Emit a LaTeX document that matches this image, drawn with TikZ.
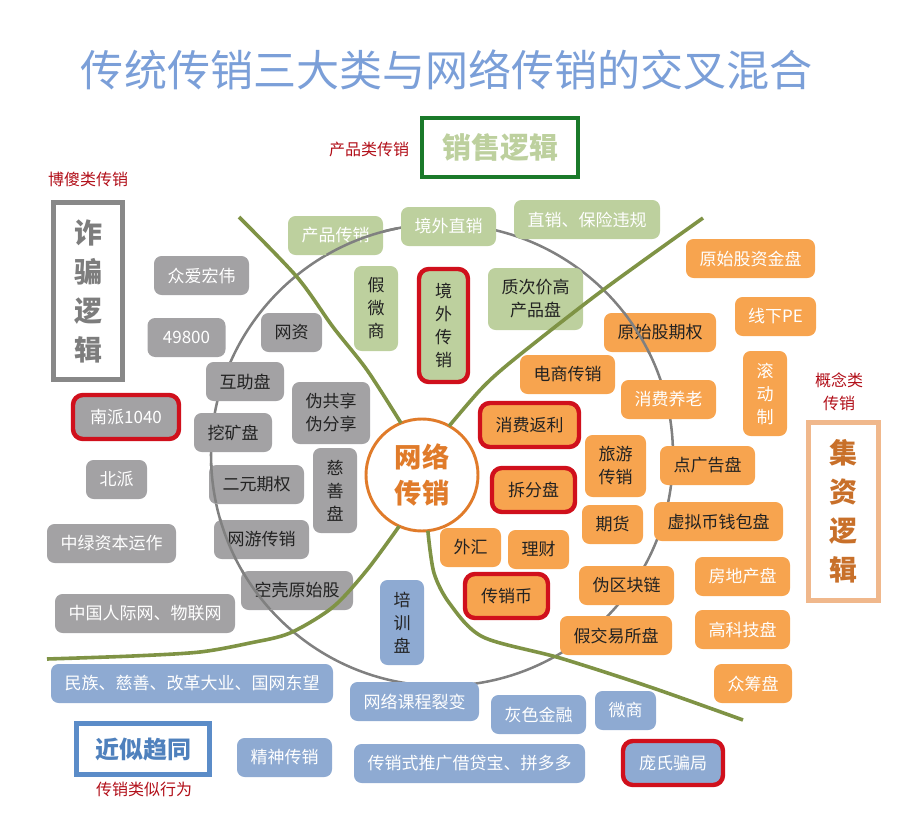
\documentclass[tikz,border=0pt]{standalone}
\usepackage{fontspec}
\setmainfont{Noto Sans CJK SC}
\definecolor{graybg}{HTML}{A3A2A4}
\definecolor{greenbg}{HTML}{BDD09E}
\definecolor{orangebg}{HTML}{F7A44F}
\definecolor{bluebg}{HTML}{8EAAD2}
\definecolor{hotred}{HTML}{D0101C}
\definecolor{cutgreen}{HTML}{7F9345}
\definecolor{ringgray}{HTML}{808080}
\definecolor{ink}{HTML}{222222}
\tikzset{
  tag/.style={rectangle, rounded corners=2mm, inner sep=0, outer sep=0, text=white, align=center,
    font=\fontsize{12.75}{17.25}\selectfont, minimum height=29.25pt},
  cells/.style={minimum width={(27+17*#1)*0.75pt}},
  rows/.style={minimum height={(39+23*(#1-1))*0.75pt}},
  upright/.style={minimum width=33pt, rows=3},
  graytag/.style={tag, fill=graybg},
  greentag/.style={tag, fill=greenbg},
  orangetag/.style={tag, fill=orangebg},
  bluetag/.style={tag, fill=bluebg},
  dk/.style={text=ink},
  hot/.style={draw=hotred, line width=3.3pt, rounded corners=2.6mm, minimum height=33pt},
  frame/.style={rectangle, draw, inner sep=0, align=center, font=\bfseries},
  redtext/.style={text=hotred!85!black, align=center, inner sep=0, font=\fontsize{12}{17}\selectfont},
  cutline/.style={line width=2.7pt, cutgreen},
  ringline/.style={line width=1.9pt, ringgray},
}
\begin{document}
\begin{tikzpicture}[x=0.75pt,y=-0.75pt]
    \useasboundingbox (0,0) rectangle (897,824);
    %ring under the tags
    \coordinate (ring) at (442,455);
    \draw[ringline] (ring) circle[radius=231];
    %title and side labels
    \node[inner sep=0, font=\fontsize{32.3}{38}\selectfont, text={rgb,255:red,123;green,159;blue,216}](Title) at (447,70) {传统传销三大类与网络传销的交叉混合};
    \node[redtext](LblSale) at (369,149) {产品类传销};
    \node[redtext](LblFraud) at (88,179) {博傻类传销};
    \node[redtext](LblFund) at (839,392) {概念类\\传销};
    \node[redtext](LblNear) at (144,789) {传销类似行为};
    \node[frame, draw={rgb,255:red,26;green,122;blue,42}, line width=3pt, minimum width=117pt, minimum height=44.25pt, text=greenbg, font=\bfseries\fontsize{21.75}{26}\selectfont](Sale) at (500,147.5) {销售逻辑};
    \node[frame, draw={rgb,255:red,136;green,136;blue,136}, line width=3.75pt, minimum width=51.75pt, minimum height=132.75pt, text={rgb,255:red,125;green,125;blue,125}, font=\bfseries\fontsize{21}{29.25}\selectfont](Fraud) at (88,291) {诈\\骗\\逻\\辑};
    \node[frame, draw={rgb,255:red,240;green,184;blue,140}, line width=3.75pt, minimum width=52.5pt, minimum height=133.5pt, text={rgb,255:red,200;green,112;blue,42}, font=\bfseries\fontsize{21}{29.25}\selectfont](Fund) at (843.5,511.5) {集\\资\\逻\\辑};
    \node[frame, draw={rgb,255:red,91;green,140;blue,200}, line width=3.75pt, minimum width=99.75pt, minimum height=38.25pt, text={rgb,255:red,79;green,129;blue,189}, font=\bfseries\fontsize{18}{22}\selectfont](Near) at (143,749) {近似趋同};
    %fraud side
    \node[graytag, cells=4](Zaho) at (201.5,275.5) {众爱宏伟};
    \node[graytag, cells=3](Num) at (186.5,337.5) {49800};
    \node[graytag, dk, cells=2](Wz) at (291.5,332.5) {网资};
    \node[graytag, dk, cells=3](Huzhu) at (245,381.5) {互助盘};
    \node[graytag, hot, minimum width=79.5pt](Nanpai) at (126,417) {南派1040};
    \node[graytag, dk, cells=3](Wakuang) at (233,432.5) {挖矿盘};
    \node[graytag, dk, cells=3, rows=2](Share) at (331,413) {伪共享\\伪分享};
    \node[graytag, dk, upright](Cishan) at (335,490.5) {慈\\善\\盘};
    \node[graytag, cells=2](Beipai) at (116.5,479.5) {北派};
    \node[graytag, dk, cells=4](Erqi) at (256.5,484.5) {二元期权};
    \node[graytag, cells=6](Zhonglv) at (111.5,543.5) {中绿资本运作};
    \node[graytag, dk, cells=4](Game) at (261.5,539.5) {网游传销};
    \node[graytag, dk, cells=5](Shell) at (297,590.5) {空壳原始股};
    \node[graytag, cells=9](Renji) at (145,613.5) {中国人际网、物联网};
    %sale side
    \node[greentag, cells=4](Prod) at (335.5,235.5) {产品传销};
    \node[greentag, cells=4](Abroad) at (448.5,226.5) {境外直销};
    \node[greentag, cells=7](Direct) at (587,219.5) {直销、保险违规};
    \node[greentag, dk, upright](Fake) at (376,308.5) {假\\微\\商};
    \node[greentag, dk, hot, minimum width=36.75pt, minimum height=84.75pt](Jwcx) at (443.5,325.5) {境\\外\\传\\销};
    \node[greentag, dk, cells=4, rows=2](Poor) at (535.5,299) {质次价高\\产品盘};
    %fund side
    \node[orangetag, cells=6](Gold) at (750.5,258.5) {原始股资金盘};
    \node[orangetag, minimum width=60.75pt](Pe) at (775.5,316.5) {线下PE};
    \node[orangetag, dk, cells=5](Option) at (660,332.5) {原始股期权};
    \node[orangetag, upright](Roll) at (765,393.5) {滚\\动\\制};
    \node[orangetag, dk, cells=4](Shop) at (567.5,374.5) {电商传销};
    \node[orangetag, cells=4](Pension) at (668.5,399.5) {消费养老};
    \node[orangetag, dk, hot, minimum width=74.25pt](Rebate) at (529.5,425) {消费返利};
    \node[orangetag, dk, cells=2, rows=2](Tour) at (615.5,466) {旅游\\传销};
    \node[orangetag, dk, cells=4](Click) at (707.5,465.5) {点广告盘};
    \node[orangetag, dk, hot, minimum width=62.25pt](Split) at (533.5,490) {拆分盘};
    \node[orangetag, dk, cells=2](Future) at (612.5,524.5) {期货};
    \node[orangetag, dk, cells=6](Wallet) at (718.5,521.5) {虚拟币钱包盘};
    \node[orangetag, dk, cells=2](Forex) at (470.5,547.5) {外汇};
    \node[orangetag, dk, cells=2](Money) at (538.5,549.5) {理财};
    \node[orangetag, dk, hot, minimum width=62.25pt](Coin) at (506.5,596) {传销币};
    \node[orangetag, dk, cells=4](Chain) at (626.5,585.5) {伪区块链};
    \node[orangetag, cells=4](House) at (742.5,576.5) {房地产盘};
    \node[orangetag, dk, cells=5](Exch) at (616,635.5) {假交易所盘};
    \node[orangetag, cells=4](Tech) at (742.5,629.5) {高科技盘};
    \node[orangetag, cells=3](Crowd) at (753,683.5) {众筹盘};
    %near side
    \node[bluetag, dk, upright](Train) at (402,622.5) {培\\训\\盘};
    \node[bluetag, cells=15](Nation) at (192,683.5) {民族、慈善、改革大业、国网东望};
    \node[bluetag, cells=6](Course) at (414.5,701.5) {网络课程裂变};
    \node[bluetag, cells=4](Grey) at (538.5,714.5) {灰色金融};
    \node[bluetag, cells=2](Micro) at (625.5,710.5) {微商};
    \node[bluetag, cells=4](Mind) at (284.5,757.5) {精神传销};
    \node[bluetag, cells=12](Promo) at (469.5,763.5) {传销式推广借贷宝、拼多多};
    \node[bluetag, hot, minimum width=75pt](Ponzi) at (673,763) {庞氏骗局};
    %bits of ring that run over tags
    \foreach \a/\b in {-101/-120, -38/-26, 168/178, 153/164, 138/150}
      \draw[ringline] plot[smooth,samples=12,domain=\a:\b] ({442+231*cos(\x)},{455+231*sin(\x)});
    %centre and the four cuts
    \node[circle, draw={rgb,255:red,224;green,123;blue,42}, line width=2.2pt, fill=white, minimum size=84pt, inner sep=0, outer sep=0, align=center, text={rgb,255:red,224;green,123;blue,42}, font=\bfseries\fontsize{20.5}{26.5}\selectfont](Net) at (422,475) {网络\\传销};
    \coordinate (CutA) at (239,217);
    \coordinate (CutB) at (703,218);
    \coordinate (CutC) at (47,659);
    \coordinate (CutD) at (743,720);
    \draw[cutline] plot[smooth] coordinates {(CutA) (297,277) (333,327) (367,370) (Net.112)};
    \draw[cutline] plot[smooth] coordinates {(CutB) (603,290) (517,357) (483,387) (Net.61)};
    \draw[cutline] plot[smooth] coordinates {(CutC) (133,656) (200,652) (250,643) (290,633) (333,607) (367,570) (Net.246)};
    \draw[cutline] plot[smooth] coordinates {(Net.276) (434,573) (450,604) (483,637) (560,658) (650,687) (CutD)};
\end{tikzpicture}
\end{document}
